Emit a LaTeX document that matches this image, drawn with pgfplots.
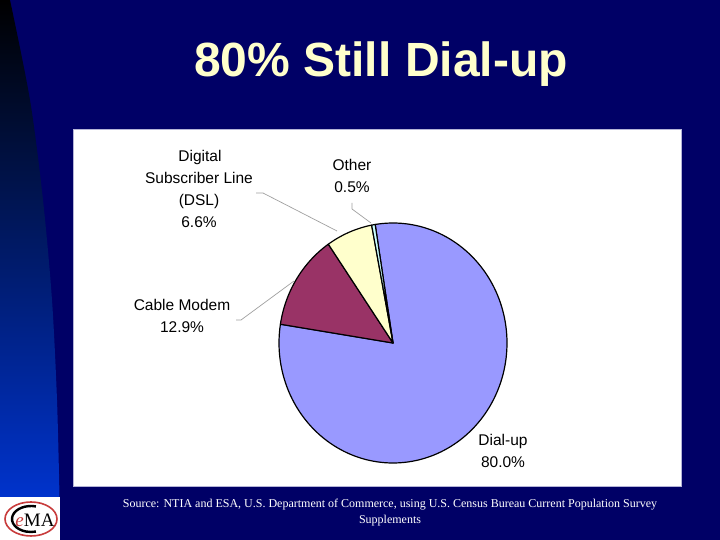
\documentclass[border=0pt]{standalone}
\usepackage{fontspec}
\setmainfont{Liberation Sans}
\newfontfamily\seriffont{Liberation Serif}
\usepackage{pgfplots}
\pgfplotsset{compat=1.18}
\definecolor{navy}{RGB}{0,0,102}
\definecolor{cream}{RGB}{255,255,204}
\definecolor{dialup}{RGB}{153,153,255}
\definecolor{cable}{RGB}{153,51,102}
\definecolor{dsl}{RGB}{255,255,204}
\definecolor{other}{RGB}{204,255,255}
\definecolor{leader}{RGB}{160,160,160}
\definecolor{sideblue}{RGB}{0,51,204}
\definecolor{logored}{RGB}{200,60,60}
\definecolor{paneledge}{RGB}{180,180,215}
\begin{document}
\begin{tikzpicture}[x=1pt,y=1pt]
% slide background
\fill[navy] (0,0) rectangle (720,540);
\shade[top color=black, bottom color=sideblue] (0,540) -- plot[smooth] coordinates {(10,540) (30,440) (43,340) (52,240) (57,140) (59.5,43)} -- (0,43) -- cycle;
\fill[white] (0,0) rectangle (60,43);
\draw[logored, line width=1.6pt] (31,21) ellipse (26 and 17);
\draw[black, line width=2.4pt] (31,21) ++(75:19 and 13) arc[start angle=75, end angle=285, x radius=19, y radius=13];
\node[font=\seriffont\fontsize{19}{20}\selectfont, inner sep=0] at (35,20) {{\color{logored}\itshape e}MA};
% white panel
\filldraw[fill=white, draw=paneledge, line width=0.8pt] (73,54) rectangle (681,411);
\begin{axis}[at={(0,0)}, anchor=south west, scale only axis,
  width=720pt, height=540pt, xmin=0, xmax=720, ymin=0, ymax=540,
  y dir=reverse, hide axis, clip=false]
% leader lines
\draw[leader, line width=0.7pt] (256,193) -- (263,193) -- (337,231);
\draw[leader, line width=0.7pt] (352,203) -- (352,209) -- (371,223);
\draw[leader, line width=0.7pt] (236,320) -- (241,320) -- (294,281);
% pie slices: Dial-up 80.0, Cable Modem 12.9, DSL 6.6, Other 0.5 (start 99 deg, clockwise)
\addplot[fill=dialup, draw=black, line width=1.2pt, line join=round, domain=-189:99, samples=150, variable=\t]
  ({393+114*cos(\t)},{343-120*sin(\t)}) -- (393,343) -- cycle;
\addplot[fill=cable, draw=black, line width=1.2pt, line join=round, domain=-235.44:-189, samples=40, variable=\t]
  ({393+114*cos(\t)},{343-120*sin(\t)}) -- (393,343) -- cycle;
\addplot[fill=dsl, draw=black, line width=1.2pt, line join=round, domain=-259.2:-235.44, samples=25, variable=\t]
  ({393+114*cos(\t)},{343-120*sin(\t)}) -- (393,343) -- cycle;
\addplot[fill=other, draw=black, line width=1.2pt, line join=round, domain=-261:-259.2, samples=4, variable=\t]
  ({393+114*cos(\t)},{343-120*sin(\t)}) -- (393,343) -- cycle;
% labels
\begin{scope}[every node/.style={font=\fontsize{15.5}{22}\selectfont, inner sep=0, anchor=base, text=black}]
\node at (200,161.5) {Digital};
\node at (199,183.5) {Subscriber Line};
\node at (199,205.5) {(DSL)};
\node at (199,227.5) {6.6\%};
\node at (352,170.5) {Other};
\node at (352,192.5) {0.5\%};
\node at (182,310.5) {Cable Modem};
\node at (182,332.5) {12.9\%};
\node at (503,445.5) {Dial-up};
\node at (503,467.5) {80.0\%};
\end{scope}
% title
\node[font=\fontsize{48}{50}\selectfont\bfseries, text=cream, inner sep=0, anchor=base] at (381,77) {80\% Still Dial-up};
% source
\node[font=\seriffont\fontsize{12}{16}\selectfont, text=white, inner sep=0, anchor=base] at (390,507) {Source: NTIA and ESA, U.S. Department of Commerce, using U.S. Census Bureau Current Population Survey};
\node[font=\seriffont\fontsize{12}{16}\selectfont, text=white, inner sep=0, anchor=base] at (390,523) {Supplements};
\end{axis}
\end{tikzpicture}
\end{document}
